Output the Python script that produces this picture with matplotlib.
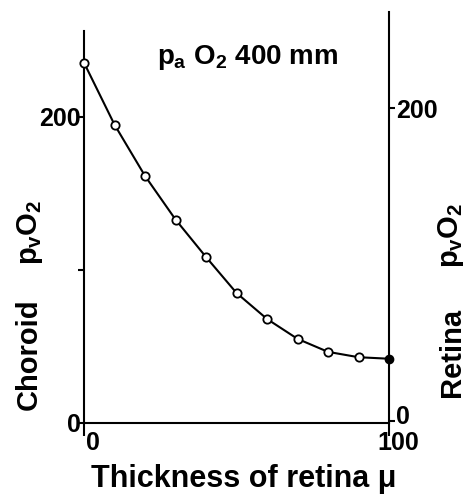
import matplotlib
matplotlib.use("Agg")
import matplotlib.pyplot as plt
from matplotlib.transforms import ScaledTranslation

plt.rcParams['font.family'] = ['Liberation Sans', 'DejaVu Sans']
plt.rcParams['font.weight'] = 'bold'
plt.rcParams['mathtext.fontset'] = 'custom'
plt.rcParams['mathtext.rm'] = 'Liberation Sans:bold'
plt.rcParams['mathtext.it'] = 'Liberation Sans:bold'
plt.rcParams['mathtext.bf'] = 'Liberation Sans:bold'

# data
thickness = [0, 10, 20, 30, 40, 50, 60, 70, 80, 90, 100]
pvo2 = [235.5, 195, 161.5, 133, 108.5, 85, 68, 55, 46.5, 43, 42]
open_thickness = thickness[:-1]
open_pvo2 = pvo2[:-1]
retina_thickness = [100]
retina_pvo2 = [42]
x_ticks = [0, 100]
x_ticklabels = ['0', '100']
left_ticks = [0, 100, 200]
left_ticklabels = ['0', '', '200']
right_ticks = [0, 200]
right_ticklabels = ['0', '200']

W, H = 476, 499
fig = plt.figure(figsize=(W / 100, H / 100), dpi=100)
ax = fig.add_axes([84 / W, 1 - 423 / H, 305 / W, 411 / H])
ax.set_xlim(0, 100)
ax.set_ylim(0, 411 / 1.53)
ax2 = ax.twinx()
ax2.set_ylim(-2 / 1.565, 409 / 1.565)

lw = 1.5
ax.plot(thickness, pvo2, color='black', lw=lw, zorder=3, clip_on=False)
ax.plot(open_thickness, open_pvo2, 'o', ms=6, mfc='white', mec='black', mew=1.3,
        zorder=4, clip_on=False)
ax.plot(retina_thickness, retina_pvo2, 'o', ms=6, mfc='black', mec='black',
        zorder=5, clip_on=False)

for s in ['top', 'right']:
    ax.spines[s].set_visible(False)
for s in ['top', 'left', 'bottom']:
    ax2.spines[s].set_visible(False)
ax.spines['left'].set_bounds(0, 256)
for s in ['left', 'bottom']:
    ax.spines[s].set_linewidth(lw)
ax2.spines['right'].set_linewidth(lw)

ax.set_xticks(x_ticks, x_ticklabels)
ax.set_yticks(left_ticks, left_ticklabels)
ax2.set_yticks(right_ticks, right_ticklabels)
ax.tick_params(axis='x', direction='out', length=9, width=lw, pad=-3, labelsize=18)
ax.tick_params(axis='y', direction='out', length=4, width=lw, pad=-2, labelsize=18)
ax2.tick_params(axis='y', direction='out', length=4, width=lw, pad=1, labelsize=18)
off = ScaledTranslation(0.09, 0, fig.dpi_scale_trans)
for lab in ax.get_xticklabels():
    lab.set_transform(lab.get_transform() + off)
rlabs = ax2.get_yticklabels()
rlabs[0].set_transform(rlabs[0].get_transform() + ScaledTranslation(0, 0.07, fig.dpi_scale_trans))

def ftext(x, y, s, **kw):
    fig.text(x / W, 1 - y / H, s, **kw)

ftext(157, 64, r"$p_a\ O_2$ 400 mm", fontsize=20, ha='left', va='baseline')
ftext(91, 487, "Thickness of retina \u03bc", fontsize=22, ha='left', va='baseline')

rot = dict(rotation=90, rotation_mode='anchor', ha='center', va='baseline', fontsize=21)
ftext(37, 354, "Choroid", **rot)
ftext(37, 232, r"$p_vO_2$", **rot)
ftext(460, 352, "Retina", **rot)
ftext(458, 235, r"$p_vO_2$", **rot)

fig.savefig("out.png", dpi=100)
